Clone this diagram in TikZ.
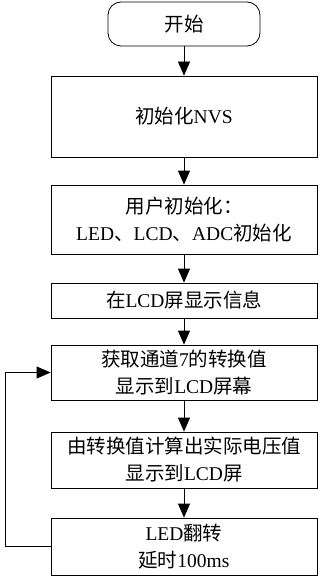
\documentclass[tikz,border=0pt]{standalone}
\usepackage{fontspec}
\setmainfont{Liberation Serif}
\newfontfamily\cjk{Noto Sans CJK SC}
\newcommand{\zh}[1]{{\cjk #1}}
\usetikzlibrary{arrows.meta}
\tikzset{stepbox/.style={draw, align=center, minimum width=266pt, inner sep=0pt}}
\begin{document}
\begin{tikzpicture}[x=1pt, y=-1pt, >={Triangle[length=14pt,width=12pt]}, line width=0.8pt, font=\fontsize{19.5}{27}\selectfont]
\useasboundingbox (0,0) rectangle (323,578);
\node[draw, rounded corners=13pt, minimum width=152pt, minimum height=44pt] (start) at (184,24) {\zh{开始}};
\node[stepbox, minimum height=81pt] (nvs) at (184,116.5) {\zh{初始化}NVS};
\node[stepbox, minimum height=69pt] (init) at (184,219.5) {\zh{用户初始化：}\\LED\zh{、}LCD\zh{、}ADC\zh{初始化}};
\node[stepbox, minimum height=35pt] (info) at (184,300.5) {\zh{在}LCD\zh{屏显示信息}};
\node[stepbox, minimum height=55pt] (adc) at (184,372.5) {\zh{获取通道}7\zh{的转换值}\\\zh{显示到}LCD\zh{屏幕}};
\node[stepbox, minimum height=56pt] (volt) at (184,460) {\zh{由转换值计算出实际电压值}\\\zh{显示到}LCD\zh{屏}};
\node[stepbox, minimum height=57pt] (led) at (184,546.5) {LED\zh{翻转}\\\zh{延时}100ms};
\coordinate (loop) at (5,546.5);
\draw[->] (start) -- (nvs);
\draw[->] (nvs) -- (init);
\draw[->] (init) -- (info);
\draw[->] (info) -- (adc);
\draw[->] (adc) -- (volt);
\draw[->] (volt) -- (led);
\draw[->] (led.west) -- (loop) |- (adc.west);
\end{tikzpicture}
\end{document}
